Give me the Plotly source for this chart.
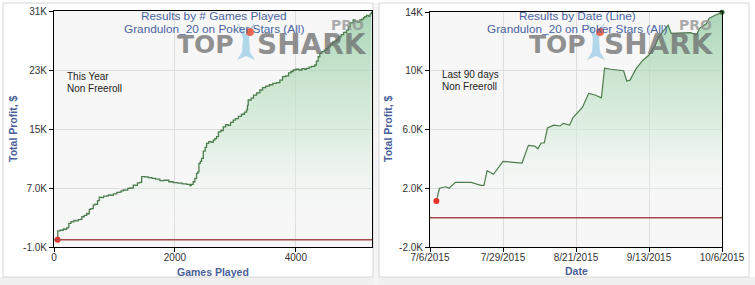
import plotly.graph_objects as go

W, H = 755, 285
FONT = "Liberation Sans, Arial, sans-serif"


def px(x):
    return x / W


def py(y):
    return 1 - y / H


# ---------------- data: results by # games played ----------------
games = [60, 62, 100, 130, 155, 180, 210, 237, 245, 281, 300, 330, 360, 400, 430,
         460, 500, 540, 560, 584, 610, 650, 680, 720, 749, 780, 820, 871, 900, 940,
         980, 1008, 1040, 1080, 1110, 1146, 1180, 1220, 1260, 1311, 1340, 1380, 1420,
         1450, 1500, 1559, 1620, 1680, 1752, 1820, 1900, 1972, 2050, 2120, 2193, 2248,
         2270, 2303, 2330, 2358, 2380, 2397, 2420, 2441, 2470, 2500, 2524, 2560, 2600,
         2634, 2660, 2689, 2720, 2760, 2799, 2840, 2880, 2920, 2964, 3000, 3050, 3100,
         3150, 3185, 3200, 3212, 3260, 3300, 3350, 3405, 3450, 3500, 3560, 3620, 3680,
         3736, 3780, 3830, 3880, 3920, 3956, 4000, 4050, 4100, 4150, 4177, 4220, 4260,
         4314, 4340, 4370, 4397, 4430, 4470, 4500, 4534, 4570, 4610, 4640, 4672, 4710,
         4750, 4790, 4838, 4870, 4900, 4948, 4980, 5020, 5058, 5090, 5120, 5140, 5170,
         5200, 5230, 5251]
profit_games_k = [0.0, 1.2, 1.3, 1.25, 1.45, 1.4, 1.6, 1.67, 2.2, 2.45, 2.4, 2.6, 2.55,
                  2.7, 2.75, 3.1, 3.3, 3.55, 3.5, 4.1, 4.2, 4.7, 4.8, 5.3, 5.75, 5.7,
                  5.9, 5.92, 6.05, 6.0, 6.2, 6.19, 6.4, 6.45, 6.6, 6.73, 6.7, 6.95, 7.0,
                  7.4, 7.35, 7.7, 7.75, 8.53, 8.5, 8.4, 8.3, 8.2, 8.0, 8.05, 7.85, 7.72,
                  7.65, 7.55, 7.5, 7.31, 7.5, 7.85, 8.3, 8.99, 9.2, 10.35, 10.6, 11.03,
                  12.0, 12.5, 13.06, 13.3, 13.2, 13.5, 13.7, 13.96, 14.6, 14.8, 15.3,
                  15.6, 15.5, 15.9, 16.2, 16.4, 16.7, 17.0, 17.3, 17.58, 18.2, 18.93,
                  19.2, 19.6, 19.9, 20.29, 20.6, 20.8, 21.0, 21.2, 21.3, 21.64, 22.1,
                  22.2, 22.6, 22.8, 23.0, 23.1, 23.0, 23.2, 23.1, 23.23, 23.4, 23.5,
                  23.68, 24.2, 24.8, 25.26, 25.5, 25.7, 25.9, 26.16, 26.5, 26.8, 26.9,
                  27.07, 27.5, 27.8, 28.1, 28.42, 28.9, 29.4, 29.78, 29.6, 29.5, 29.78,
                  29.9, 30.1, 30.23, 30.4, 30.3, 30.6, 30.9]
games_ticks = [0, 2000, 4000]
games_y_ticks = [-1000, 7000, 15000, 23000, 31000]
games_y_labels = ["-1.0K", "7.0K", "15K", "23K", "31K"]

# ---------------- data: results by date ----------------
dates = ["2015-07-08", "2015-07-09", "2015-07-11", "2015-07-12", "2015-07-14",
         "2015-07-19", "2015-07-22", "2015-07-23", "2015-07-24", "2015-07-26",
         "2015-07-29", "2015-08-04", "2015-08-06", "2015-08-08", "2015-08-09",
         "2015-08-10", "2015-08-11", "2015-08-12", "2015-08-14", "2015-08-16",
         "2015-08-17", "2015-08-19", "2015-08-20", "2015-08-23", "2015-08-25",
         "2015-08-27", "2015-08-29", "2015-08-30", "2015-09-01", "2015-09-05",
         "2015-09-06", "2015-09-07", "2015-09-09", "2015-09-11", "2015-09-13",
         "2015-09-15", "2015-09-16", "2015-09-19", "2015-09-20", "2015-09-23",
         "2015-09-26", "2015-09-28", "2015-09-29", "2015-10-01", "2015-10-02",
         "2015-10-04", "2015-10-06"]
profit_date_k = [1.13, 2.0, 2.1, 2.0, 2.4, 2.4, 2.2, 2.2, 3.2, 2.95, 3.83, 3.72, 4.92,
                 4.87, 4.69, 5.08, 5.08, 6.1, 6.3, 6.24, 6.42, 6.3, 6.8, 7.5, 8.46,
                 8.35, 8.16, 10.18, 10.1, 10.0, 9.3, 9.36, 10.16, 10.7, 11.07, 11.75,
                 12.3, 13.1, 12.55, 12.6, 12.6, 12.47, 12.9, 13.2, 13.57, 13.8, 13.98]
date_ticks = ["2015-07-06", "2015-07-29", "2015-08-21", "2015-09-13", "2015-10-06"]
date_labels = ["7/6/2015", "7/29/2015", "8/21/2015", "9/13/2015", "10/6/2015"]
date_y_ticks = [-2000, 2000, 6000, 10000, 14000]
date_y_labels = ["-2.0K", "2.0K", "6.0K", "10K", "14K"]

LINE_GREEN = "#4c7d4c"
FILL_SCALE = [[0, "rgba(255,255,255,0)"], [0.45, "rgba(205,232,210,0.6)"],
              [1, "rgba(150,205,165,0.78)"]]

fig = go.Figure()

pg = [v * 1000 for v in profit_games_k]
pd_ = [v * 1000 for v in profit_date_k]

fig.add_trace(go.Scatter(x=games, y=pg, mode="lines", xaxis="x", yaxis="y",
                         line=dict(color=LINE_GREEN, width=1.3, shape="hv"),
                         fill="tozeroy",
                         fillgradient=dict(type="vertical", colorscale=FILL_SCALE),
                         hoverinfo="skip", showlegend=False))
fig.add_trace(go.Scatter(x=[games[0]], y=[pg[0]], mode="markers", xaxis="x", yaxis="y",
                         marker=dict(color="#e8302a", size=6), cliponaxis=False,
                         hoverinfo="skip", showlegend=False))

fig.add_trace(go.Scatter(x=dates, y=pd_, mode="lines", xaxis="x2", yaxis="y2",
                         line=dict(color=LINE_GREEN, width=1.2),
                         fill="tozeroy",
                         fillgradient=dict(type="vertical", colorscale=FILL_SCALE),
                         hoverinfo="skip", showlegend=False))
fig.add_trace(go.Scatter(x=[dates[0]], y=[pd_[0]], mode="markers", xaxis="x2", yaxis="y2",
                         marker=dict(color="#e8302a", size=6), cliponaxis=False,
                         hoverinfo="skip", showlegend=False))
fig.add_trace(go.Scatter(x=[dates[-1]], y=[pd_[-1]], mode="markers", xaxis="x2", yaxis="y2",
                         marker=dict(color="#2f6b2f", size=5), cliponaxis=False,
                         hoverinfo="skip", showlegend=False))

tickfont = dict(family=FONT, size=10, color="#333333")
common_ax = dict(showline=True, linecolor="#000000", linewidth=1, mirror=True,
                 ticks="outside", ticklen=4, tickcolor="#000000", tickwidth=1,
                 showgrid=True, gridcolor="#dddddd", gridwidth=1, zeroline=False,
                 tickfont=tickfont, automargin=False, fixedrange=True)
xax_extra = dict(ticklabelstandoff=-3)

fig.update_layout(
    width=W, height=H,
    margin=dict(l=0, r=0, t=0, b=0),
    paper_bgcolor="#ffffff",
    plot_bgcolor="#f7f7f7",
    showlegend=False,
    font=dict(family=FONT),
    xaxis=dict(domain=[px(54), px(372)], range=[0, 5260], anchor="y",
               tickmode="array", tickvals=games_ticks, **common_ax, **xax_extra),
    yaxis=dict(domain=[py(247), py(11)], range=[-1000, 31000], anchor="x",
               tickmode="array", tickvals=games_y_ticks, ticktext=games_y_labels,
               **common_ax),
    xaxis2=dict(domain=[px(430), px(722)], type="date",
                range=["2015-07-06", "2015-10-06"], anchor="y2",
                tickmode="array", tickvals=date_ticks, ticktext=date_labels,
                **common_ax, **xax_extra),
    yaxis2=dict(domain=[py(247), py(12)], range=[-2000, 14000], anchor="x2",
                tickmode="array", tickvals=date_y_ticks, ticktext=date_y_labels,
                **common_ax),
)

shapes = [
    # gray page strips
    dict(type="rect", xref="paper", yref="paper", x0=0, x1=1, y0=py(285), y1=py(277),
         fillcolor="#f0f0f0", line=dict(width=0), layer="below"),
    dict(type="rect", xref="paper", yref="paper", x0=px(373), x1=px(379), y0=py(285),
         y1=py(3), fillcolor="#f4f4f4", line=dict(width=0), layer="below"),
    # panel borders
    dict(type="rect", xref="paper", yref="paper", x0=px(3), x1=px(373), y0=py(277),
         y1=py(3), line=dict(color="#d6d6d6", width=1), layer="below"),
    dict(type="rect", xref="paper", yref="paper", x0=px(379), x1=px(749), y0=py(277),
         y1=py(3), line=dict(color="#d6d6d6", width=1), layer="below"),
    # zero lines
    dict(type="line", xref="x domain", yref="y", x0=0, x1=1, y0=0, y1=0,
         line=dict(color="#a8484c", width=1.5)),
    dict(type="line", xref="x2 domain", yref="y2", x0=0, x1=1, y0=0, y1=0,
         line=dict(color="#a8484c", width=1.5)),
]


def shark_icon(cx):
    pts = [(cx - 9, 22), (cx - 3, 38), (cx - 4, 52), (cx - 9, 60), (cx, 56), (cx + 9, 60),
           (cx + 4, 52), (cx + 3, 38), (cx + 9, 22), (cx, 34)]
    path = "M " + " L ".join(f"{px(a):.5f},{py(b):.5f}" for a, b in pts) + " Z"
    return dict(type="path", xref="paper", yref="paper", path=path,
                fillcolor="rgba(120,190,225,0.55)", line=dict(width=0))


def red_ball(cx, cy):
    return dict(type="circle", xref="paper", yref="paper",
                x0=px(cx - 4), x1=px(cx + 4), y0=py(cy + 4), y1=py(cy - 4),
                fillcolor="rgba(240,80,50,0.85)", line=dict(width=0))


shapes += [shark_icon(246), red_ball(250, 32), shark_icon(596), red_ball(600, 32)]
fig.update_layout(shapes=shapes)

TITLE_BLUE = "#4a63a2"
AXIS_BLUE = "#4a5f98"


def ann(text, x, y, size, color, xanchor="center", family=FONT, weight="normal",
        angle=0):
    return dict(text=text, x=px(x), y=py(y), xref="paper", yref="paper",
                xanchor=xanchor, yanchor="middle", showarrow=False, textangle=angle,
                font=dict(family=family, size=size, color=color, weight=weight))


WM = "DejaVu Sans, sans-serif"
WM_COLOR = "rgba(105,105,105,0.72)"
annotations = [
    # watermarks
    ann("TOP", 205, 44, 25, WM_COLOR, family=WM, weight="bold"),
    ann("SHARK", 312, 44, 28, WM_COLOR, family=WM, weight="bold"),
    ann("PRO", 347, 25, 14, "rgba(150,150,150,0.8)", family=WM, weight="bold"),
    ann("TOP", 557, 44, 25, WM_COLOR, family=WM, weight="bold"),
    ann("SHARK", 659, 44, 28, WM_COLOR, family=WM, weight="bold"),
    ann("PRO", 695, 25, 14, "rgba(150,150,150,0.8)", family=WM, weight="bold"),
    # titles
    ann("Results by # Games Played", 214, 16, 11.8, TITLE_BLUE),
    ann("Grandulon_20 on Poker Stars (All)", 214, 29, 11.8, TITLE_BLUE),
    ann("Results by Date (Line)", 577, 16, 11.8, TITLE_BLUE),
    ann("Grandulon_20 on Poker Stars (All)", 577, 29, 11.8, TITLE_BLUE),
    # notes
    ann("This Year", 65, 77, 10, "#222222", xanchor="left"),
    ann("Non Freeroll", 65, 88, 10, "#222222", xanchor="left"),
    ann("Last 90 days", 440, 75, 10, "#222222", xanchor="left"),
    ann("Non Freeroll", 440, 86, 10, "#222222", xanchor="left"),
    # axis titles
    ann("Games Played", 213, 272, 10.5, AXIS_BLUE, weight="bold"),
    ann("Date", 576, 271, 10.5, AXIS_BLUE, weight="bold"),
    ann("Total Profit, $", 13, 129, 10.5, AXIS_BLUE, weight="bold", angle=-90),
    ann("Total Profit, $", 388, 129, 10.5, AXIS_BLUE, weight="bold", angle=-90),
]
fig.update_layout(annotations=annotations)

fig.write_html("out.html")
